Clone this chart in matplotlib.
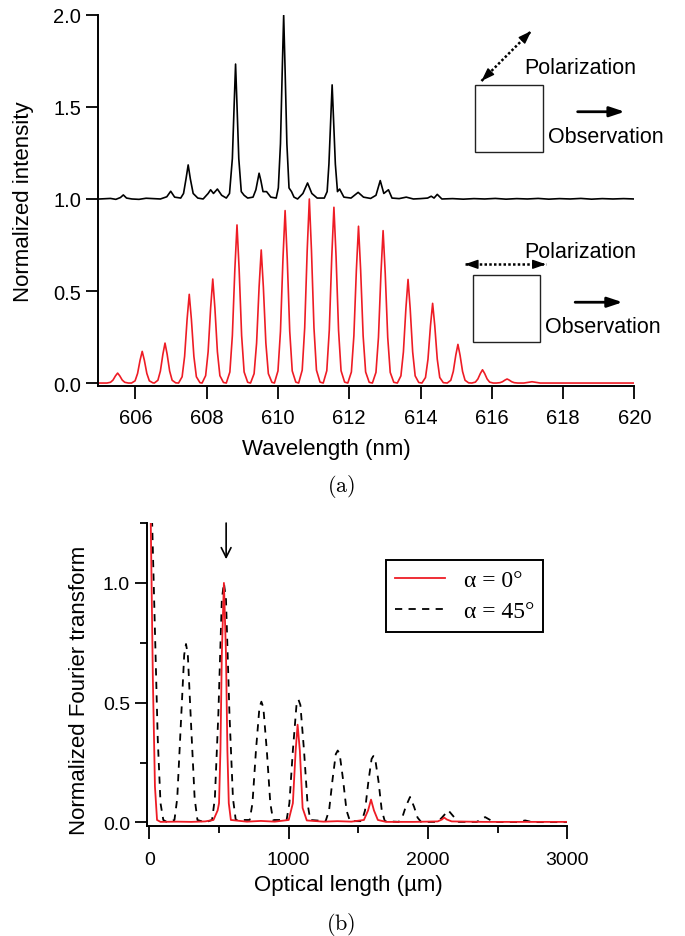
import matplotlib
matplotlib.use("Agg")
import matplotlib.pyplot as plt
from matplotlib.patches import Rectangle
from matplotlib.ticker import MultipleLocator

plt.rcParams['font.family'] = ['Liberation Sans', 'DejaVu Sans']
plt.rcParams['mathtext.fontset'] = 'cm'

RED = '#ee1c25'

# ---- panel (a): spectra, wavelength (nm) vs normalized intensity ----
# alpha = 45 deg spectrum (black, offset by +1)
wl_black = [605.0, 605.3, 605.45, 605.58, 605.66, 605.75, 605.9, 606.1, 606.3, 606.5,
            606.7, 606.88, 606.99, 607.1, 607.27, 607.35, 607.42, 607.48, 607.54, 607.62,
            607.75, 607.9, 608.04, 608.11, 608.19, 608.30, 608.42, 608.55, 608.64, 608.72,
            608.77, 608.81, 608.85, 608.90, 608.97, 609.05, 609.15, 609.3, 609.38, 609.43,
            609.47, 609.52, 609.58, 609.68, 609.8, 609.95, 610.01, 610.07, 610.12, 610.16,
            610.20, 610.25, 610.31, 610.38, 610.45, 610.55, 610.7, 610.83, 610.95, 611.1,
            611.3, 611.38, 611.43, 611.48, 611.52, 611.56, 611.61, 611.67, 611.73, 611.85,
            612.05, 612.25, 612.4, 612.6, 612.75, 612.87, 612.97, 613.10, 613.2, 613.4,
            613.6, 613.8, 614.0, 614.2, 614.3, 614.38, 614.47, 614.6, 614.9, 615.2,
            615.5, 615.8, 616.1, 616.4, 616.7, 617.0, 617.3, 617.6, 617.9, 618.2,
            618.5, 618.8, 619.1, 619.4, 619.7, 620.0]
int_black = [1.0, 1.003, 0.998, 1.008, 1.022, 1.005, 1.0, 0.998, 1.004, 1.002,
             1.0, 1.012, 1.042, 1.01, 1.005, 1.03, 1.11, 1.185, 1.11, 1.03,
             1.005, 1.0, 1.03, 1.05, 1.03, 1.054, 1.02, 1.005, 1.03, 1.22,
             1.51, 1.733, 1.51, 1.22, 1.04, 1.02, 1.005, 1.01, 1.05, 1.1,
             1.14, 1.1, 1.04, 1.04, 1.01, 1.005, 1.06, 1.3, 1.7, 1.998,
             1.7, 1.3, 1.06, 1.04, 1.01, 1.0, 1.03, 1.087, 1.03, 1.005,
             1.005, 1.04, 1.19, 1.43, 1.62, 1.43, 1.19, 1.04, 1.054, 1.01,
             1.005, 1.036, 1.01, 1.003, 1.02, 1.1, 1.03, 1.05, 1.005, 1.002,
             1.01, 1.0, 1.002, 1.005, 1.015, 1.005, 1.025, 1.0, 1.002, 0.999,
             1.002, 1.0, 1.003, 0.999, 1.002, 1.0, 1.003, 0.999, 1.002, 1.0,
             1.003, 0.999, 1.002, 1.0, 1.002, 1.0]

# alpha = 0 deg spectrum (red), one line per peak
wl_red = [605.0,
          605.20, 605.30, 605.37, 605.44, 605.50, 605.56, 605.63, 605.70, 605.80,
          605.89, 605.99, 606.06, 606.13, 606.19, 606.25, 606.32, 606.39, 606.49,
          606.53, 606.63, 606.70, 606.77, 606.83, 606.89, 606.96, 607.03, 607.13,
          607.21, 607.31, 607.38, 607.45, 607.51, 607.57, 607.64, 607.71, 607.81,
          607.87, 607.97, 608.04, 608.11, 608.17, 608.23, 608.30, 608.37, 608.47,
          608.55, 608.65, 608.72, 608.79, 608.85, 608.91, 608.98, 609.05, 609.15,
          609.23, 609.33, 609.40, 609.47, 609.53, 609.59, 609.66, 609.73, 609.83,
          609.90, 610.00, 610.07, 610.14, 610.20, 610.26, 610.33, 610.40, 610.50,
          610.58, 610.68, 610.75, 610.82, 610.88, 610.94, 611.01, 611.08, 611.18,
          611.27, 611.37, 611.44, 611.51, 611.57, 611.63, 611.70, 611.77, 611.87,
          611.96, 612.06, 612.13, 612.20, 612.26, 612.32, 612.39, 612.46, 612.56,
          612.65, 612.75, 612.82, 612.89, 612.95, 613.01, 613.08, 613.15, 613.25,
          613.35, 613.45, 613.52, 613.59, 613.65, 613.71, 613.78, 613.85, 613.95,
          614.04, 614.14, 614.21, 614.28, 614.34, 614.40, 614.47, 614.54, 614.64,
          614.75, 614.85, 614.92, 614.99, 615.05, 615.11, 615.18, 615.25, 615.35,
          615.44, 615.54, 615.61, 615.68, 615.74, 615.80, 615.87, 615.94, 616.04,
          616.13, 616.23, 616.30, 616.37, 616.43, 616.49, 616.56, 616.63, 616.73,
          616.90, 617.13, 617.36,
          620.0]
int_red = [0.0,
           0.0, 0.004, 0.016, 0.039, 0.054, 0.039, 0.016, 0.004, 0.0,
           0.0, 0.012, 0.052, 0.124, 0.172, 0.124, 0.052, 0.012, 0.001,
           0.0, 0.015, 0.065, 0.156, 0.217, 0.156, 0.065, 0.015, 0.001,
           0.0, 0.034, 0.145, 0.347, 0.482, 0.347, 0.145, 0.034, 0.002,
           0.0, 0.040, 0.170, 0.407, 0.565, 0.407, 0.170, 0.040, 0.003,
           0.0, 0.060, 0.258, 0.618, 0.859, 0.618, 0.258, 0.060, 0.004,
           0.0, 0.051, 0.217, 0.521, 0.723, 0.521, 0.217, 0.051, 0.004,
           0.0, 0.066, 0.281, 0.675, 0.937, 0.675, 0.281, 0.066, 0.005,
           0.0, 0.070, 0.300, 0.720, 1.000, 0.720, 0.300, 0.070, 0.005,
           0.0, 0.067, 0.287, 0.688, 0.955, 0.688, 0.287, 0.067, 0.005,
           0.0, 0.060, 0.256, 0.613, 0.852, 0.613, 0.256, 0.060, 0.004,
           0.0, 0.058, 0.248, 0.596, 0.828, 0.596, 0.248, 0.058, 0.004,
           0.0, 0.039, 0.169, 0.405, 0.563, 0.405, 0.169, 0.039, 0.003,
           0.0, 0.030, 0.130, 0.312, 0.433, 0.312, 0.130, 0.030, 0.002,
           0.0, 0.015, 0.063, 0.151, 0.210, 0.151, 0.063, 0.015, 0.001,
           0.0, 0.005, 0.022, 0.052, 0.072, 0.052, 0.022, 0.005, 0.0,
           0.0, 0.002, 0.007, 0.016, 0.022, 0.016, 0.007, 0.002, 0.0,
           0.0, 0.007, 0.0,
           0.0]

# ---- panel (b): Fourier transforms, optical length (um) ----
opl_red = [-20, 0, 10, 25, 40, 55, 80, 200, 300, 400, 460, 490,
           500, 510, 520, 535, 550, 560, 570, 585, 700, 800, 900,
           1000, 1030, 1050, 1064, 1080, 1100, 1130, 1250, 1350, 1450,
           1540, 1570, 1591, 1612, 1640, 1700, 1900,
           2070, 2100, 2116, 2135, 2170, 2400, 2700, 3000]
ft_red = [2.0, 1.8, 1.25, 0.6, 0.15, 0.01, 0.002, 0.003, 0.002, 0.004, 0.01, 0.05,
          0.08, 0.3, 0.7, 1.0, 0.7, 0.3, 0.08, 0.01, 0.003, 0.006, 0.003,
          0.01, 0.08, 0.3, 0.408, 0.3, 0.06, 0.008, 0.003, 0.005, 0.003,
          0.01, 0.05, 0.095, 0.05, 0.01, 0.002, 0.002,
          0.004, 0.012, 0.02, 0.012, 0.004, 0.002, 0.002, 0.002]

opl_dash = [-20, 0, 20, 40, 60, 80, 100, 130,
            180, 200, 225, 250, 263, 276, 300, 325, 345, 400,
            450, 470, 495, 520, 535, 550, 575, 600, 620,
            720, 740, 765, 790, 804, 818, 843, 868, 888,
            985, 1005, 1030, 1056, 1070, 1084, 1110, 1135, 1155,
            1265, 1290, 1315, 1338, 1352, 1366, 1390, 1415, 1440,
            1525, 1548, 1572, 1595, 1608, 1621, 1645, 1668, 1690,
            1790, 1815, 1840, 1871, 1900, 1925, 1950,
            2070, 2100, 2146, 2190, 2220,
            2350, 2410, 2470, 2640, 2697, 2750, 3000]
ft_dash = [2.0, 1.9, 1.25, 0.8, 0.35, 0.08, 0.01, 0.0,
           0.01, 0.1, 0.4, 0.7, 0.745, 0.7, 0.4, 0.1, 0.01, 0.0,
           0.01, 0.1, 0.45, 0.93, 1.0, 0.93, 0.45, 0.1, 0.01,
           0.01, 0.08, 0.3, 0.48, 0.504, 0.48, 0.3, 0.08, 0.01,
           0.01, 0.08, 0.3, 0.49, 0.513, 0.49, 0.3, 0.08, 0.01,
           0.005, 0.05, 0.18, 0.285, 0.3, 0.285, 0.18, 0.05, 0.005,
           0.005, 0.05, 0.17, 0.265, 0.277, 0.265, 0.17, 0.05, 0.005,
           0.002, 0.02, 0.065, 0.106, 0.065, 0.02, 0.002,
           0.002, 0.02, 0.05, 0.02, 0.002,
           0.002, 0.022, 0.002, 0.001, 0.008, 0.001, 0.001]


def style_axis(ax, tick_size):
    for side in ('top', 'right'):
        ax.spines[side].set_visible(False)
    for side in ('left', 'bottom'):
        ax.spines[side].set_linewidth(1.4)
    ax.tick_params(which='major', direction='out', length=9, width=1.3,
                   labelsize=tick_size)
    ax.tick_params(which='minor', direction='out', length=5, width=1.3)
    ax.tick_params(axis='x', pad=7)
    ax.tick_params(axis='y', pad=3)


def dotted_double_arrow(ax, p0, p1, p0_in, p1_in):
    # dotted shaft + solid filled heads at both ends
    ax.plot([p0[0], p1[0]], [p0[1], p1[1]], color='black', lw=1.8,
            linestyle=(0, (1, 0.9)))
    head = dict(arrowstyle='-|>,head_length=0.8,head_width=0.28', color='black',
                lw=1.0, shrinkA=0, shrinkB=0)
    ax.annotate('', xy=p1, xytext=p1_in, arrowprops=head)
    ax.annotate('', xy=p0, xytext=p0_in, arrowprops=head)


fig = plt.figure(figsize=(6.85, 9.37), dpi=100)

# ---------------- panel (a) ----------------
ax1 = fig.add_axes([0.1431, 0.587, 0.7829, 0.396])
ax1.plot(wl_black, int_black, color='black', lw=1.2)
ax1.plot(wl_red, int_red, color=RED, lw=1.2)
ax1.set_xlim(604.95, 620)
ax1.set_ylim(-0.016, 2.0)
ax1.set_xticks([606, 608, 610, 612, 614, 616, 618, 620])
ax1.set_yticks([0.0, 0.5, 1.0, 1.5, 2.0])
ax1.set_yticklabels(['0.0', '0.5', '1.0', '1.5', '2.0'])
style_axis(ax1, 14.5)
ax1.set_xlabel('Wavelength (nm)', fontsize=16)
ax1.set_ylabel('Normalized intensity', fontsize=16)
ax1.xaxis.set_label_coords(0.425, -0.14)
ax1.yaxis.set_label_coords(-0.12, 0.5)

# sketches: sample box, polarization and observation direction
for (x0, y0, w, h) in [(615.54, 1.257, 1.89, 0.364), (615.48, 0.221, 1.87, 0.364)]:
    ax1.add_patch(Rectangle((x0, y0), w, h, fill=False, ec='#222222', lw=1.0))

ax1.text(616.92, 1.717, 'Polarization', fontsize=15.5, va='center', ha='left')
ax1.text(616.92, 0.717, 'Polarization', fontsize=15.5, va='center', ha='left')
ax1.text(617.57, 1.339, 'Observation', fontsize=15.5, va='center', ha='left')
ax1.text(617.50, 0.308, 'Observation', fontsize=15.5, va='center', ha='left')

solid = dict(arrowstyle='-|>,head_length=0.9,head_width=0.3', color='black',
             lw=2, shrinkA=0, shrinkB=0)
ax1.annotate('', xy=(619.73, 1.474), xytext=(618.41, 1.474), arrowprops=solid)
ax1.annotate('', xy=(619.67, 0.439), xytext=(618.34, 0.439), arrowprops=solid)

dotted_double_arrow(ax1, (615.71, 1.641), (617.11, 1.913),
                    (615.87, 1.672), (616.95, 1.882))
dotted_double_arrow(ax1, (615.24, 0.645), (617.52, 0.645),
                    (615.45, 0.645), (617.31, 0.645))

fig.text(0.498, 1 - 487 / 937, r'$\mathrm{(a)}$', fontsize=16,
         ha='center', va='center')

# ---------------- panel (b) ----------------
ax2 = fig.add_axes([0.2142, 0.1177, 0.614, 0.323])
ax2.plot(opl_dash, ft_dash, color='black', lw=1.3, linestyle=(0, (4, 3.5)),
         label='α = 45°')
ax2.plot(opl_red, ft_red, color=RED, lw=1.3, label='α = 0°')
ax2.set_xlim(-19, 3000)
ax2.set_ylim(-0.014, 1.25)
ax2.set_xticks([0, 1000, 2000, 3000])
ax2.xaxis.set_minor_locator(MultipleLocator(500))
ax2.set_yticks([0.0, 0.5, 1.0])
ax2.set_yticklabels(['0.0', '0.5', '1.0'])
ax2.yaxis.set_minor_locator(MultipleLocator(0.25))
style_axis(ax2, 14)
ax2.tick_params(axis='x', pad=9)
ax2.set_xlabel('Optical length (µm)', fontsize=16)
ax2.set_ylabel('Normalized Fourier transform', fontsize=16)
ax2.xaxis.set_label_coords(0.479, -0.16)
ax2.yaxis.set_label_coords(-0.135, 0.45)

handles, labels = ax2.get_legend_handles_labels()
leg = ax2.legend(handles[::-1], labels[::-1], loc='upper left',
                 bbox_to_anchor=(0.568, 0.877), borderaxespad=0,
                 prop={'family': 'Liberation Serif', 'size': 17},
                 handlelength=2.1, handletextpad=0.8, fancybox=False,
                 framealpha=1, edgecolor='black', borderpad=0.4,
                 labelspacing=0.4)
leg.get_frame().set_linewidth(1.4)

ax2.annotate('', xy=(551, 1.099), xytext=(551, 1.25),
             arrowprops=dict(arrowstyle='->,head_length=0.7,head_width=0.35',
                             color='black', lw=1.2, shrinkA=0, shrinkB=0),
             annotation_clip=False)

fig.text(0.498, 1 - 925 / 937, r'$\mathrm{(b)}$', fontsize=16,
         ha='center', va='center')

fig.savefig('out.png', dpi=100)
